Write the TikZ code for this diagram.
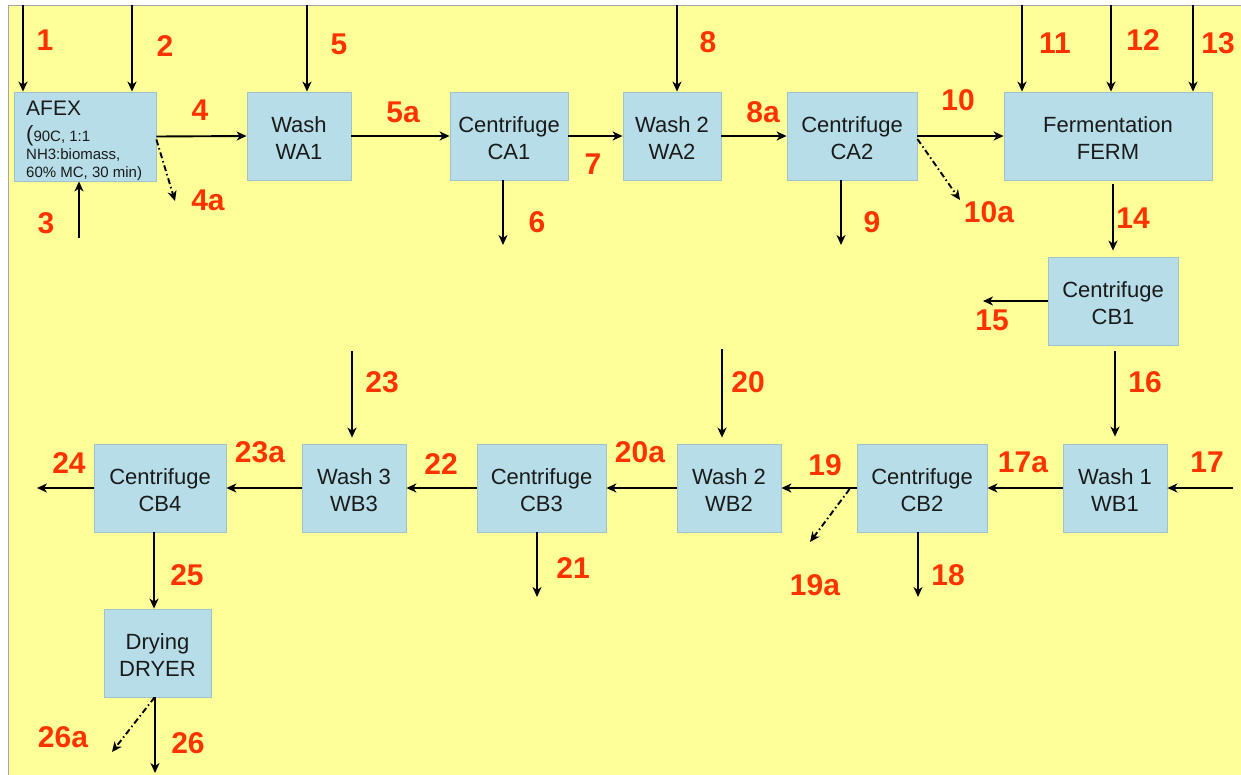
\documentclass[tikz,border=0pt]{standalone}
\usepackage{fontspec}
\setmainfont{Liberation Sans}
\usetikzlibrary{arrows.meta}
\definecolor{bg}{RGB}{255,255,153}
\definecolor{boxfill}{RGB}{183,222,232}
\definecolor{boxline}{RGB}{160,196,204}
\definecolor{numred}{RGB}{255,51,0}
\definecolor{ink}{RGB}{26,26,26}
% two-line unit caption, set slightly below the box centre
\newcommand{\unitcap}[2]{\raisebox{-5pt}[\height][\depth]{\begin{tabular}{@{}c@{}}#1\\#2\end{tabular}}}
\begin{document}
\begin{tikzpicture}[x=1pt,y=-1pt,
  unit/.style={draw=boxline, line width=0.8pt, fill=boxfill, inner sep=0pt,
    font=\fontsize{22}{27}\selectfont, text=ink, minimum height=88pt},
  flow/.style={draw=black, line width=1.9pt, -{Stealth[length=10pt,width=9pt,inset=3pt]}},
  vent/.style={flow, dash pattern=on 6pt off 3pt on 1.5pt off 3pt},
  num/.style={font=\fontsize{30}{30}\selectfont\bfseries, text=numred, inner sep=0pt}]
\useasboundingbox (0,0) rectangle (1241,774);
\fill[white] (0,0) rectangle (1241,774);
\filldraw[fill=bg, draw=black!35, line width=0.8pt] (8,5) rectangle (1243,776);

% ---- process units, upper line ----
\node[unit, minimum width=142pt, minimum height=89pt] (AFEX) at (85,136.5) {};
\node[anchor=north west, inner sep=0pt, align=left, text=ink,
      font=\fontsize{15}{18}\selectfont] (afexnote) at (26,101)
  {{\fontsize{21}{21}\selectfont AFEX}\\[8pt]
   {\fontsize{22}{18}\selectfont(}90C, 1:1\\
   NH3:biomass,\\
   60\% MC, 30 min)};
\node[unit, minimum width=104pt] (WA1)  at (299,136)  {\unitcap{Wash}{WA1}};
\node[unit, minimum width=118pt] (CA1)  at (509,136)  {\unitcap{Centrifuge}{CA1}};
\node[unit, minimum width=98pt]  (WA2)  at (672,136)  {\unitcap{Wash 2}{WA2}};
\node[unit, minimum width=130pt] (CA2)  at (852,136)  {\unitcap{Centrifuge}{CA2}};
\node[unit, minimum width=208pt] (FERM) at (1108,136) {\unitcap{Fermentation}{FERM}};
\node[unit, minimum width=130pt] (CB1)  at (1113,301) {\unitcap{Centrifuge}{CB1}};

% ---- process units, lower line ----
\node[unit, minimum width=104pt] (WB1)  at (1115,488) {\unitcap{Wash 1}{WB1}};
\node[unit, minimum width=130pt] (CB2)  at (922,488)  {\unitcap{Centrifuge}{CB2}};
\node[unit, minimum width=104pt] (WB2)  at (729,488)  {\unitcap{Wash 2}{WB2}};
\node[unit, minimum width=129pt] (CB3)  at (541.5,488) {\unitcap{Centrifuge}{CB3}};
\node[unit, minimum width=104pt] (WB3)  at (354,488)  {\unitcap{Wash 3}{WB3}};
\node[unit, minimum width=132pt] (CB4)  at (160,488)  {\unitcap{Centrifuge}{CB4}};
\node[unit, minimum width=107pt] (DRYER) at (157.5,653) {\unitcap{Drying}{DRYER}};

% ---- free stream ends ----
\coordinate (in1)  at (23,5);
\coordinate (in2)  at (132,5);
\coordinate (in3)  at (79,238);
\coordinate (o4a)  at (175,201);
\coordinate (in5)  at (307,5);
\coordinate (o6)   at (503,245);
\coordinate (in8)  at (677,5);
\coordinate (o9)   at (841,245);
\coordinate (o10a) at (960,200);
\coordinate (in11) at (1022,5);
\coordinate (in12) at (1111,5);
\coordinate (in13) at (1193,5);
\coordinate (o15)  at (983,301);
\coordinate (in17) at (1233,488);
\coordinate (o18)  at (918,597);
\coordinate (o19a) at (810,542);
\coordinate (in20) at (722,349);
\coordinate (o21)  at (537,597);
\coordinate (in23) at (352,351);
\coordinate (o24)  at (37,488);
\coordinate (o26)  at (155,773);
\coordinate (o26a) at (112,752);

% ---- streams ----
\draw[flow] (in1) -- (in1 |- AFEX.north);
\draw[flow] (in2) -- (in2 |- AFEX.north);
\draw[flow] (in3) -- (in3 |- AFEX.south);
\draw[flow] (AFEX.east) -- (WA1.west);
\draw[vent] ([yshift=-3pt]AFEX.east) -- (o4a);
\draw[flow] (in5) -- (in5 |- WA1.north);
\draw[flow] (WA1.east) -- (CA1.west);
\draw[flow] (o6 |- CA1.south) -- (o6);
\draw[flow] (CA1.east) -- (WA2.west);
\draw[flow] (in8) -- (in8 |- WA2.north);
\draw[flow] (WA2.east) -- (CA2.west);
\draw[flow] (o9 |- CA2.south) -- (o9);
\draw[flow] (CA2.east) -- (FERM.west);
\draw[vent] ([yshift=-3pt]CA2.east) -- (o10a);
\draw[flow] (in11) -- (in11 |- FERM.north);
\draw[flow] (in12) -- (in12 |- FERM.north);
\draw[flow] (in13) -- (in13 |- FERM.north);
\draw[flow, shorten <=4pt, shorten >=6pt] (CB1.north |- FERM.south) -- (CB1.north);
\draw[flow] (CB1.west) -- (o15);
\draw[flow, shorten <=6pt, shorten >=7pt] (WB1.north |- CB1.south) -- (WB1.north);
\draw[flow] (in17) -- (WB1.east);
\draw[flow] (WB1.west) -- (CB2.east);
\draw[flow] (o18 |- CB2.south) -- (o18);
\draw[flow] (CB2.west) -- (WB2.east);
\draw[vent] ([xshift=-7pt,yshift=-1pt]CB2.west) -- (o19a);
\draw[flow, shorten >=6pt] (in20) -- (in20 |- WB2.north);
\draw[flow] (WB2.west) -- (CB3.east);
\draw[flow] (o21 |- CB3.south) -- (o21);
\draw[flow] (CB3.west) -- (WB3.east);
\draw[flow, shorten >=6pt] (in23) -- (in23 |- WB3.north);
\draw[flow] (WB3.west) -- (CB4.east);
\draw[flow] (CB4.west) -- (o24);
\draw[flow] ([xshift=-6pt]CB4.south) -- ([xshift=-3.5pt]DRYER.north);
\draw[flow] (o26 |- DRYER.south) -- (o26);
\draw[vent] ([xshift=-3pt]DRYER.south) -- (o26a);

% ---- stream numbers ----
\node[num] (n1)   at (45,40)    {1};
\node[num] (n2)   at (165,46)   {2};
\node[num] (n3)   at (46,223)   {3};
\node[num] (n4)   at (200,110)  {4};
\node[num] (n4a)  at (208,200)  {4a};
\node[num] (n5)   at (339,44)   {5};
\node[num] (n5a)  at (403,112)  {5a};
\node[num] (n6)   at (537,222)  {6};
\node[num] (n7)   at (593,164)  {7};
\node[num] (n8)   at (708,42)   {8};
\node[num] (n8a)  at (763,112)  {8a};
\node[num] (n9)   at (872,222)  {9};
\node[num] (n10)  at (958,100)  {10};
\node[num] (n10a) at (989,212)  {10a};
\node[num] (n11)  at (1055,43)  {11};
\node[num] (n12)  at (1143,40)  {12};
\node[num] (n13)  at (1218,43)  {13};
\node[num] (n14)  at (1133,218) {14};
\node[num] (n15)  at (992,320)  {15};
\node[num] (n16)  at (1145,382) {16};
\node[num] (n17)  at (1207,462) {17};
\node[num] (n17a) at (1023,462) {17a};
\node[num] (n18)  at (948,575)  {18};
\node[num] (n19)  at (825,465)  {19};
\node[num] (n19a) at (815,585)  {19a};
\node[num] (n20)  at (748,382)  {20};
\node[num] (n20a) at (640,452)  {20a};
\node[num] (n21)  at (573,568)  {21};
\node[num] (n22)  at (441,464)  {22};
\node[num] (n23)  at (382,382)  {23};
\node[num] (n23a) at (260,452)  {23a};
\node[num] (n24)  at (69,463)   {24};
\node[num] (n25)  at (187,575)  {25};
\node[num] (n26)  at (188,743)  {26};
\node[num] (n26a) at (63,737)   {26a};
\end{tikzpicture}
\end{document}
